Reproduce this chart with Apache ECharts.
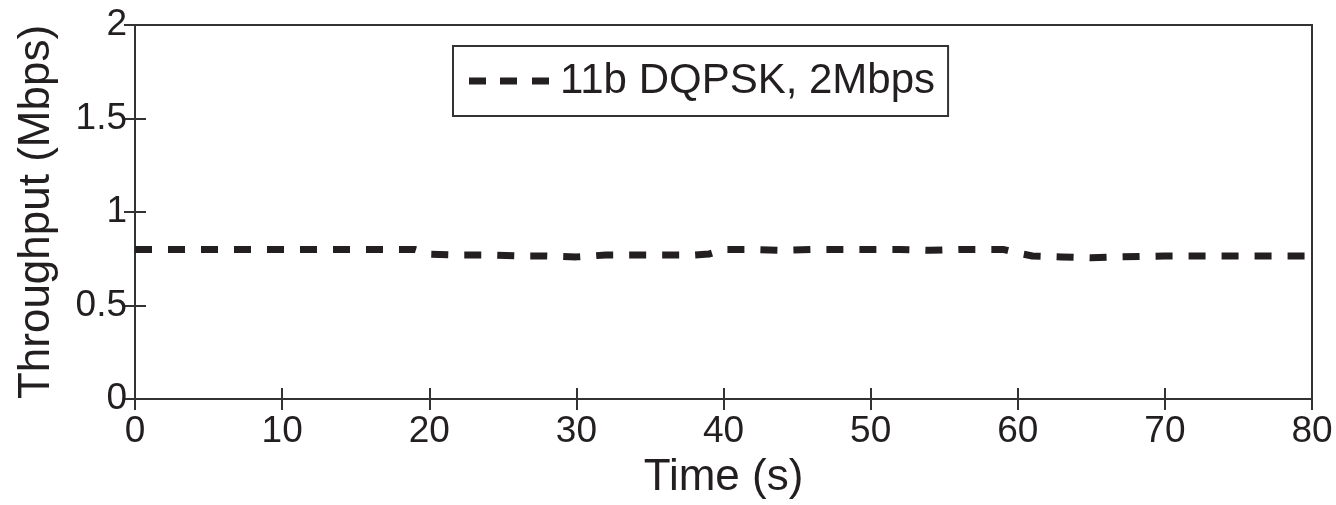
<!DOCTYPE html>
<html>
<head>
<meta charset="utf-8">
<script src="https://cdn.jsdelivr.net/npm/echarts@6/dist/echarts.min.js"></script>
<style>
  html, body { margin: 0; padding: 0; background: #fff; }
  #chart { width: 1336px; height: 505px; }
</style>
</head>
<body>
<div id="chart"></div>
<script>
// Time (s) and throughput (Mbps)
const timeSec = [0, 5, 10, 15, 19, 20, 22, 24, 26, 28, 30, 32, 34, 36, 38, 39, 40, 42, 44, 46, 48, 50, 52, 54, 56, 58, 59, 60, 61, 63, 65, 67, 70, 75, 80];
const throughput = [0.80, 0.80, 0.80, 0.80, 0.80, 0.775, 0.77, 0.77, 0.765, 0.765, 0.76, 0.77, 0.77, 0.77, 0.77, 0.775, 0.80, 0.80, 0.795, 0.80, 0.80, 0.80, 0.80, 0.795, 0.80, 0.80, 0.80, 0.78, 0.765, 0.76, 0.755, 0.76, 0.765, 0.765, 0.765];
const seriesName = '11b DQPSK, 2Mbps';

const ink = '#231f20';
const font = '"Liberation Sans", Arial, Helvetica, sans-serif';

const chart = echarts.init(document.getElementById('chart'));

const tickStyle = { inside: true, length: 11, lineStyle: { color: '#333', width: 2 } };

chart.setOption({
  animation: false,
  grid: {
    left: 135, right: 24, top: 25, bottom: 106,
    outerBoundsMode: 'none', containLabel: false,
    show: true, borderColor: '#333', borderWidth: 2,
  },
  legend: {
    left: 453, top: 46,
    padding: [14, 13, 14, 16],
    borderColor: '#333', borderWidth: 2,
    icon: 'path://M0,0h17v7h-17z M31,0h17v7h-17z M63,0h17v7h-17z',
    itemWidth: 80, itemHeight: 7,
    textStyle: { fontFamily: font, fontSize: 42, color: ink, padding: [0, 0, 0, 6] },
    itemStyle: { color: ink },
    data: [seriesName],
  },
  xAxis: [{
    type: 'value', min: 0, max: 80, interval: 10,
    name: 'Time (s)', nameLocation: 'middle', nameGap: 57,
    nameTextStyle: { fontFamily: font, fontSize: 44, color: ink },
    axisLine: { show: false },
    axisTick: tickStyle,
    axisLabel: { fontFamily: font, fontSize: 37, color: ink, margin: 14 },
    splitLine: { show: false },
  }, {
    type: 'value', min: 0, max: 80, interval: 10, position: 'top',
    axisLine: { show: false }, axisTick: tickStyle,
    axisLabel: { show: false }, splitLine: { show: false },
  }],
  yAxis: [{
    type: 'value', min: 0, max: 2, interval: 0.5,
    name: 'Throughput (Mbps)', nameLocation: 'middle', nameGap: 76,
    nameTextStyle: { fontFamily: font, fontSize: 44, color: ink },
    axisLine: { show: false },
    axisTick: tickStyle,
    axisLabel: { fontFamily: font, fontSize: 37, color: ink, margin: 8 },
    splitLine: { show: false },
  }, {
    type: 'value', min: 0, max: 2, interval: 0.5, position: 'right',
    axisLine: { show: false }, axisTick: tickStyle,
    axisLabel: { show: false }, splitLine: { show: false },
  }],
  series: [{
    name: seriesName,
    type: 'line',
    data: timeSec.map((t, i) => [t, throughput[i]]),
    showSymbol: false,
    color: ink,
    lineStyle: { color: ink, width: 7, type: [17, 16] },
  }],
});
</script>
</body>
</html>
